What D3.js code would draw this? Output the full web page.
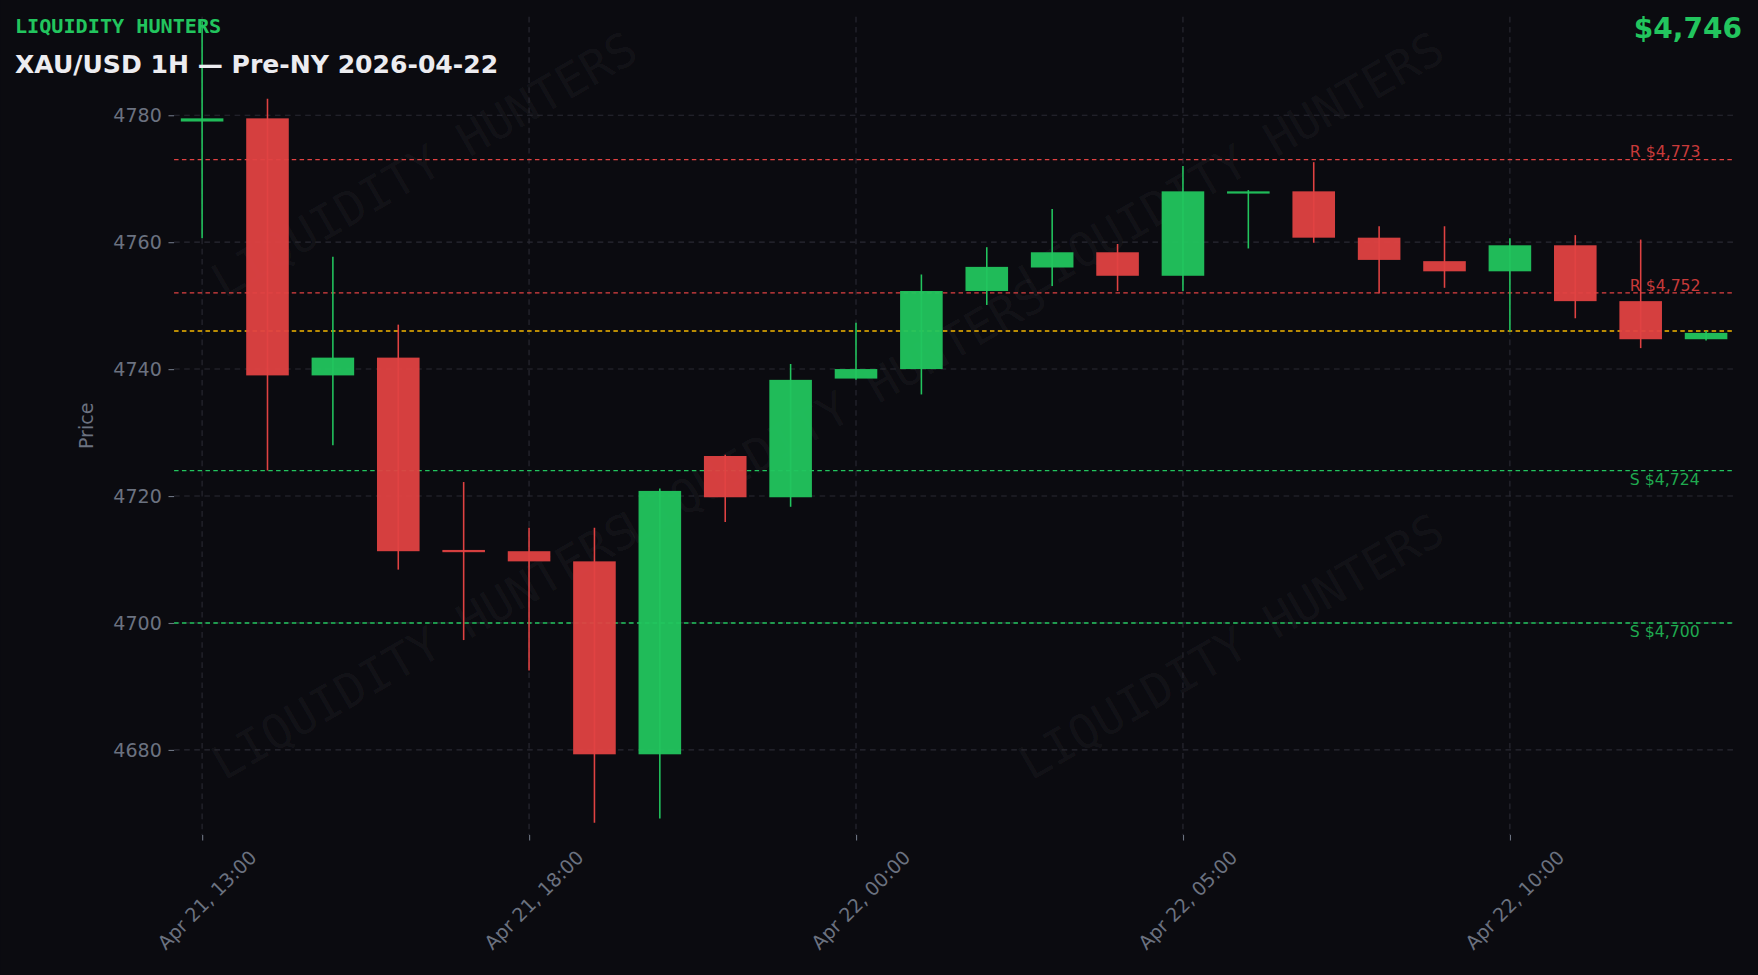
<!DOCTYPE html>
<html>
<head>
<meta charset="utf-8">
<script src="https://cdn.jsdelivr.net/npm/d3@7"></script>
<style>
  body { margin: 0; background: #0b0b10; }
  svg { display: block; }
</style>
</head>
<body>
<svg width="1758" height="975" viewBox="0 0 1568 870"></svg>
<script>
var times = ["Apr 21, 13:00","Apr 21, 14:00","Apr 21, 15:00","Apr 21, 16:00","Apr 21, 17:00",
  "Apr 21, 18:00","Apr 21, 19:00","Apr 21, 20:00","Apr 21, 21:00","Apr 21, 23:00",
  "Apr 22, 00:00","Apr 22, 01:00","Apr 22, 02:00","Apr 22, 03:00","Apr 22, 04:00",
  "Apr 22, 05:00","Apr 22, 06:00","Apr 22, 07:00","Apr 22, 08:00","Apr 22, 09:00",
  "Apr 22, 10:00","Apr 22, 11:00","Apr 22, 12:00","Apr 22, 13:00"];
var opens  = [4779.0,4779.5,4739.0,4741.8,4711.5,4711.3,4709.7,4679.3,4726.3,4719.8,4738.5,4740.0,4752.3,4756.0,4758.4,4754.7,4767.7,4768.0,4760.7,4757.0,4755.4,4759.5,4750.7,4744.7];
var highs  = [4794.7,4782.6,4757.7,4747.0,4722.2,4715.0,4715.0,4721.2,4726.5,4740.8,4747.3,4754.9,4759.2,4765.2,4759.7,4772.0,4768.2,4772.6,4762.5,4762.5,4760.6,4761.1,4760.4,4746.0];
var lows   = [4760.6,4724.0,4728.0,4708.4,4697.3,4692.5,4668.5,4669.2,4715.9,4718.3,4738.3,4736.0,4750.1,4753.1,4752.3,4752.3,4759.0,4759.9,4751.9,4752.8,4745.9,4748.0,4743.3,4744.5];
var closes = [4779.5,4739.0,4741.8,4711.3,4711.3,4709.7,4679.3,4720.8,4719.8,4738.3,4740.0,4752.3,4756.1,4758.4,4754.7,4768.0,4768.0,4760.7,4757.2,4755.4,4759.5,4750.7,4744.7,4745.7];
var tickTimes = ["Apr 21, 13:00","Apr 21, 18:00","Apr 22, 00:00","Apr 22, 05:00","Apr 22, 10:00"];
var priceTicks = [4680,4700,4720,4740,4760,4780];
var levelNames = ["R","R","S","S"];
var levelPrices = [4773,4752,4724,4700];
var lastPrice = 4746;

var green = "#22c55e", red = "#e04242", grey = "#6b7280";
var svg = d3.select("svg");
svg.append("rect").attr("width",1568).attr("height",870).attr("fill","#0b0b10");

var plotL = 155, plotR = 1547, plotT = 15, plotB = 745;
var x = d3.scalePoint().domain(times).range([180, 1522]);
var y = d3.scaleLinear().domain([4666.6, 4795.5]).range([plotB, plotT]);

// watermarks
var wm = [[380,150],[1100,150],[745,370],[380,580],[1100,580]];
svg.selectAll(".wm").data(wm).enter().append("text")
  .attr("transform", function(d) { return "translate(" + d[0] + "," + d[1] + ") rotate(-30)"; })
  .attr("text-anchor","middle").attr("dominant-baseline","middle")
  .attr("font-family","DejaVu Sans Mono").attr("font-size",42)
  .attr("fill","#ffffff").attr("fill-opacity",0.045)
  .text("LIQUIDITY HUNTERS");

// grid
svg.selectAll(".hg").data(priceTicks).enter().append("line")
  .attr("x1",plotL).attr("x2",plotR).attr("y1",y).attr("y2",y)
  .attr("stroke","#2a2a33").attr("stroke-dasharray","5,4").attr("stroke-width",1);
svg.selectAll(".vg").data(tickTimes).enter().append("line")
  .attr("x1",x).attr("x2",x).attr("y1",plotT).attr("y2",plotB)
  .attr("stroke","#2a2a33").attr("stroke-dasharray","5,4").attr("stroke-width",1);

// y axis
var ya = svg.append("g").attr("transform","translate(" + plotL + ",0)")
  .call(d3.axisLeft(y).tickValues(priceTicks).tickFormat(d3.format("d")).tickSize(5).tickPadding(6));
ya.select(".domain").remove();
ya.selectAll("line").attr("stroke", grey);
ya.selectAll("text").attr("fill", grey).attr("font-size",17).attr("font-family","DejaVu Sans");

// x axis
var xa = svg.append("g").attr("transform","translate(0," + plotB + ")")
  .call(d3.axisBottom(x).tickValues(tickTimes).tickSize(5).tickPadding(4));
xa.select(".domain").remove();
xa.selectAll("line").attr("stroke", grey);
xa.selectAll("text").attr("fill", grey).attr("font-size",17).attr("font-family","DejaVu Sans")
  .attr("text-anchor","end").attr("dy","0.9em")
  .attr("transform","translate(32,4) rotate(-45)");

svg.append("text").attr("transform","translate(83,380) rotate(-90)")
  .attr("text-anchor","middle").attr("fill",grey).attr("font-size",17)
  .attr("font-family","DejaVu Sans").text("Price");

// level lines
svg.selectAll(".lvl").data(levelPrices).enter().append("line")
  .attr("x1",plotL).attr("x2",plotR).attr("y1",y).attr("y2",y)
  .attr("stroke", function(d,i) { return levelNames[i] == "R" ? "#e04242" : "#22c55e"; })
  .attr("stroke-dasharray","4,3").attr("stroke-width",1.3);
svg.selectAll(".lvlt").data(levelPrices).enter().append("text")
  .attr("x",1454).attr("y", function(d,i) { return levelNames[i] == "R" ? y(d) - 2 : y(d) + 13; })
  .attr("fill", function(d,i) { return levelNames[i] == "R" ? "#c83a3a" : "#1fa94f"; })
  .attr("font-size",14).attr("font-family","DejaVu Sans")
  .text(function(d,i) { return levelNames[i] + " $" + d3.format(",")(d); });
svg.append("line").attr("x1",plotL).attr("x2",plotR)
  .attr("y1",y(lastPrice)).attr("y2",y(lastPrice))
  .attr("stroke","#f5b800").attr("stroke-dasharray","4,3").attr("stroke-width",1.3);

// candles
var idx = d3.range(times.length);
var col = function(i) { return closes[i] >= opens[i] ? green : red; };
svg.selectAll(".wick").data(idx).enter().append("line")
  .attr("x1", function(i) { return x(times[i]); }).attr("x2", function(i) { return x(times[i]); })
  .attr("y1", function(i) { return y(highs[i]); }).attr("y2", function(i) { return y(lows[i]); })
  .attr("stroke", col).attr("stroke-width",1.4);
var bw = 38;
svg.selectAll(".body").data(idx).enter().append("rect")
  .attr("x", function(i) { return x(times[i]) - bw/2; })
  .attr("y", function(i) { return y(Math.max(opens[i], closes[i])); })
  .attr("width", bw)
  .attr("height", function(i) { return Math.max(2, Math.abs(y(opens[i]) - y(closes[i]))); })
  .attr("fill", col).attr("fill-opacity",0.95);

// titles
svg.append("text").attr("x",13).attr("y",29).attr("fill",green)
  .attr("font-family","DejaVu Sans Mono").attr("font-weight","bold").attr("font-size",18)
  .text("LIQUIDITY HUNTERS");
svg.append("text").attr("x",13).attr("y",65).attr("fill","#ececf0")
  .attr("font-family","DejaVu Sans").attr("font-weight","bold").attr("font-size",22.4)
  .text("XAU/USD 1H — Pre-NY 2026-04-22");
svg.append("text").attr("x",1554).attr("y",34).attr("text-anchor","end").attr("fill",green)
  .attr("font-family","DejaVu Sans").attr("font-weight","bold").attr("font-size",25)
  .text("$" + d3.format(",")(lastPrice));
</script>
</body>
</html>
